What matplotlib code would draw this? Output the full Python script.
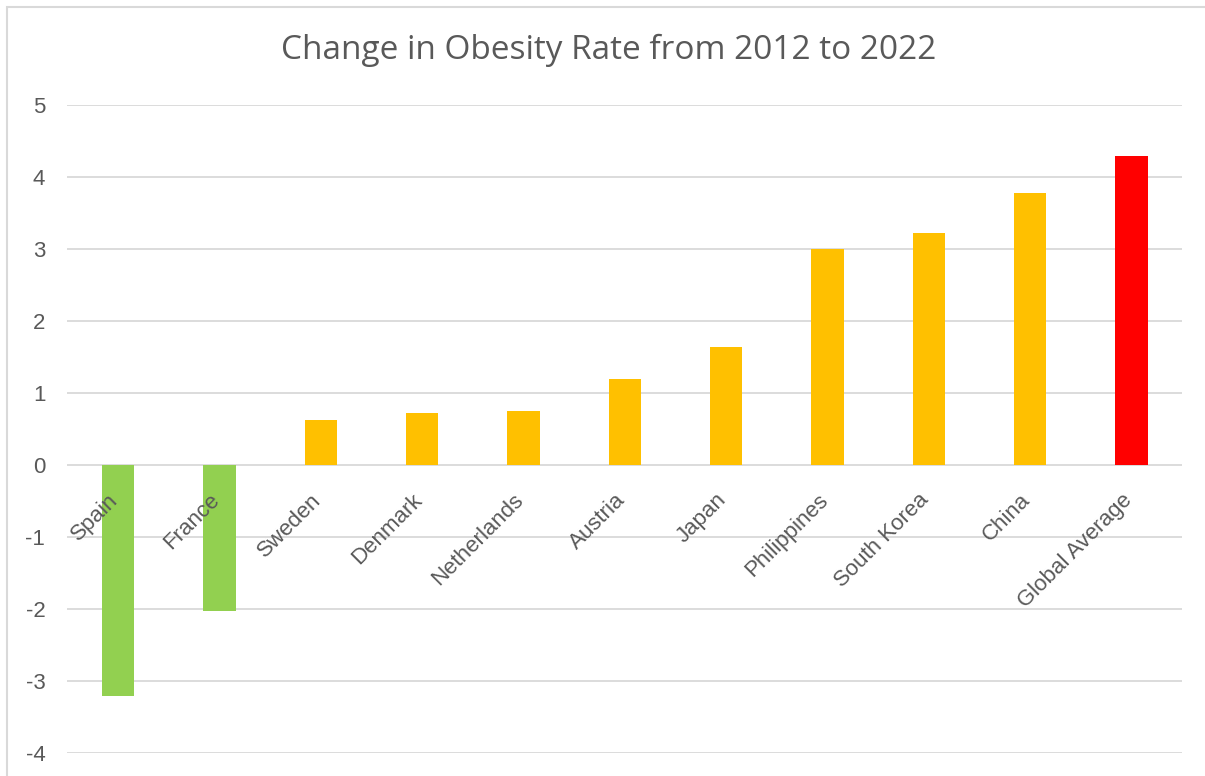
import matplotlib.pyplot as plt
from matplotlib.patches import Rectangle

# data
countries = ['Spain', 'France', 'Sweden', 'Denmark', 'Netherlands', 'Austria',
             'Japan', 'Philippines', 'South Korea', 'China', 'Global Average']
change = [-3.21, -2.03, 0.63, 0.72, 0.75, 1.19, 1.64, 3.0, 3.22, 3.78, 4.29]
bar_colors = ['#92D050', '#92D050', '#FFC000', '#FFC000', '#FFC000', '#FFC000',
              '#FFC000', '#FFC000', '#FFC000', '#FFC000', '#FF0000']
y_ticks = [-4, -3, -2, -1, 0, 1, 2, 3, 4, 5]

text_color = '#595959'
grid_color = '#D9D9D9'
plt.rcParams['font.family'] = ['Liberation Sans', 'DejaVu Sans']

fig = plt.figure(figsize=(12.05, 7.76), dpi=100)
ax = fig.add_axes([0.056, 0.0296, 0.925, 0.8351])

x = list(range(len(countries)))
ax.bar(x, change, width=0.32, color=bar_colors, zorder=3)

ax.set_xlim(-0.5, len(countries) - 0.5)
ax.set_ylim(-4, 5)
ax.set_yticks(y_ticks)
ax.set_yticklabels([str(v) for v in y_ticks], fontsize=16, color=text_color)
ax.tick_params(axis='y', length=0, pad=16)
ax.set_xticks([])
ax.grid(axis='y', color=grid_color, linewidth=1.3, zorder=0)
for s in ax.spines.values():
    s.set_visible(False)

# category labels sit beside the zero line, rotated 45 degrees
for i, name in enumerate(countries):
    ax.annotate(name, xy=(i, 0), xytext=(-2, -23), textcoords='offset points',
                ha='right', va='center', rotation=45, rotation_mode='anchor',
                fontsize=16, color=text_color, zorder=4)

fig.text(0.505, 0.935, 'Change in Obesity Rate from 2012 to 2022',
         ha='center', va='center', fontsize=24, color=text_color,
         family=['Open Sans', 'DejaVu Sans'])

# chart area border (only top and left edges show in the picture)
fig.patches.append(Rectangle((7 / 1205, -0.05), 1.2, 1.05 - 7 / 776,
                             transform=fig.transFigure, fill=False,
                             edgecolor=grid_color, linewidth=1.5))

fig.savefig('out.png', dpi=100)
